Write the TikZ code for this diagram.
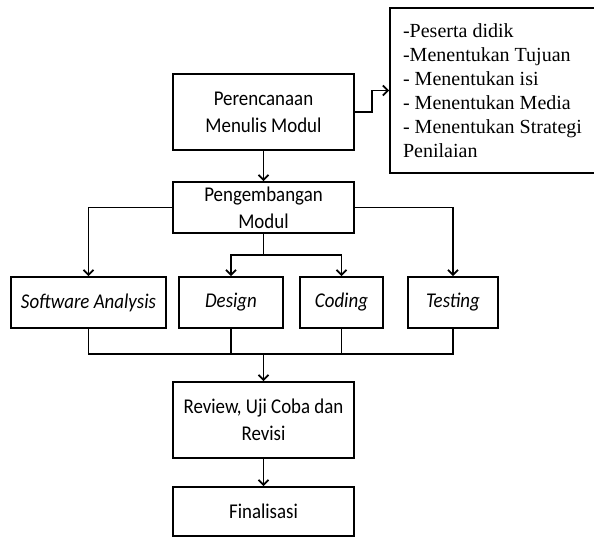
\documentclass[tikz,border=0pt]{standalone}
\usepackage{fontspec}
\setmainfont{Carlito}[FakeStretch=0.9]
\newfontfamily\listfont{Liberation Serif}
\usetikzlibrary{arrows.meta}

\begin{document}
\begin{tikzpicture}[x=1pt,y=-1pt,line width=1.8pt,
  box/.style={draw,inner sep=0pt,align=center,font=\fontsize{21}{27}\selectfont},
  task/.style={box,font=\fontsize{21}{27}\selectfont\itshape,minimum height=51pt},
  arr/.style={-{Straight Barb[length=5pt,width=10pt]}}]
\useasboundingbox (0,0) rectangle (594,536);
% main column
\node[box,minimum width=181pt,minimum height=76pt] (plan) at (263.5,112) {Perencanaan\\Menulis Modul};
\node[box,minimum width=181pt,minimum height=51pt] (dev) at (263.5,207.5) {Pengembangan\\Modul};
\node[box,minimum width=181pt,minimum height=76pt] (review) at (263.5,420) {Review, Uji Coba dan\\Revisi};
\node[box,minimum width=181pt,minimum height=49pt] (final) at (263.5,511.5) {Finalisasi};
% planning notes
\node[draw,inner sep=0pt,minimum width=205pt,minimum height=165pt,align=left,
  font=\listfont\fontsize{20}{24}\selectfont] (info) at (492.5,90.5)
  {-Peserta didik\\-Menentukan Tujuan\\- Menentukan isi\\- Menentukan Media\\- Menentukan Strategi\\Penilaian};
% development tasks
\node[task,minimum width=155pt] (sa) at (88.5,302.5) {Software Analysis};
\node[task,minimum width=104pt] (design) at (231,302.5) {Design};
\node[task,minimum width=83pt] (coding) at (341.5,302.5) {Coding};
\node[task,minimum width=90pt] (test) at (453,302.5) {Testing};
\coordinate (split) at (263.5,255);
\coordinate (join) at (263.5,354);
% connectors
\draw[arr] (plan.east) -- ++(17,0) |- (info.west);
\draw[arr] (plan) -- (dev);
\draw[arr] (dev.west) -| (sa.north);
\draw[arr] (dev.east) -| (test.north);
\draw (dev.south) -- (split);
\draw[arr] (split) -| (design.north);
\draw[arr] (split) -| (coding.north);
\draw (sa.south) |- (join) -| (test.south);
\foreach \n in {design,coding}
  \draw (\n.south) -- (\n.south |- join);
\draw[arr] (join) -- (review.north);
\draw[arr] (review) -- (final);
\end{tikzpicture}
\end{document}
